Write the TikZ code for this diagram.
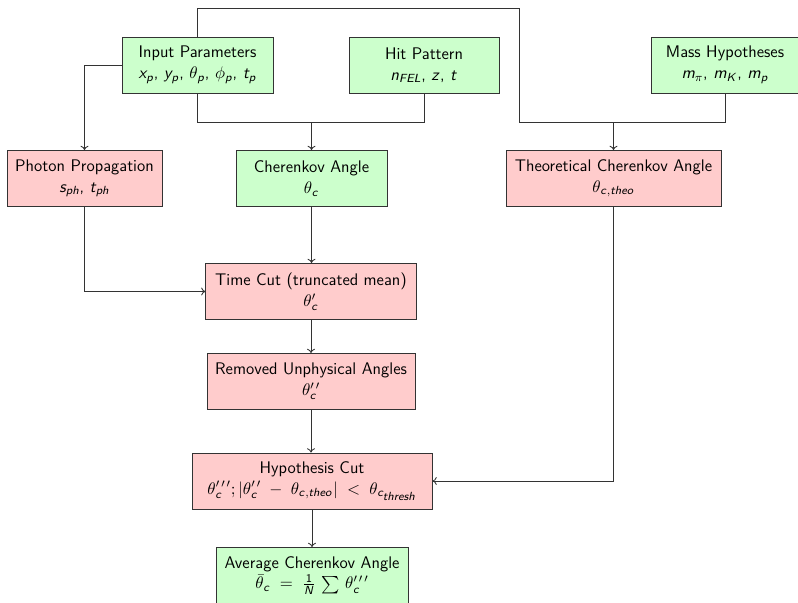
\RequirePackage{fix-cm}
\documentclass[tikz,border=0pt]{standalone}
\usepackage{amsmath}
\DeclareSymbolFont{sfit}{OT1}{cmss}{m}{sl}
\DeclareSymbolFont{sfup}{OT1}{cmss}{m}{n}
\DeclareMathSymbol{a}{\mathalpha}{sfit}{`a}
\DeclareMathSymbol{c}{\mathalpha}{sfit}{`c}
\DeclareMathSymbol{e}{\mathalpha}{sfit}{`e}
\DeclareMathSymbol{h}{\mathalpha}{sfit}{`h}
\DeclareMathSymbol{m}{\mathalpha}{sfit}{`m}
\DeclareMathSymbol{n}{\mathalpha}{sfit}{`n}
\DeclareMathSymbol{o}{\mathalpha}{sfit}{`o}
\DeclareMathSymbol{p}{\mathalpha}{sfit}{`p}
\DeclareMathSymbol{r}{\mathalpha}{sfit}{`r}
\DeclareMathSymbol{s}{\mathalpha}{sfit}{`s}
\DeclareMathSymbol{t}{\mathalpha}{sfit}{`t}
\DeclareMathSymbol{x}{\mathalpha}{sfit}{`x}
\DeclareMathSymbol{y}{\mathalpha}{sfit}{`y}
\DeclareMathSymbol{z}{\mathalpha}{sfit}{`z}
\DeclareMathSymbol{E}{\mathalpha}{sfit}{`E}
\DeclareMathSymbol{F}{\mathalpha}{sfit}{`F}
\DeclareMathSymbol{K}{\mathalpha}{sfit}{`K}
\DeclareMathSymbol{L}{\mathalpha}{sfit}{`L}
\DeclareMathSymbol{N}{\mathalpha}{sfit}{`N}
\DeclareMathSymbol{1}{\mathalpha}{sfup}{`1}
\newcommand{\pI}{^{\prime}}
\newcommand{\pII}{^{\prime\,\prime}}
\newcommand{\pIII}{^{\prime\,\prime\,\prime}}
\usetikzlibrary{calc,arrows.meta}
\begin{document}
\begin{tikzpicture}[x=0.69pt,y=-0.69pt,
  font=\sffamily\fontsize{11.6pt}{14.4pt}\selectfont,
  box/.style={draw=black!80, line width=0.6pt, align=center, minimum height=38.6pt, inner sep=1pt},
  gbox/.style={box, fill=green!20},
  rbox/.style={box, fill=red!20},
  conn/.style={draw=black!80, line width=0.6pt},
  >={To[length=3pt,width=5.5pt]}]
\useasboundingbox (0,0) rectangle (798,602);
\node[gbox, minimum width=104.2pt] (in) at (197.5,65) {Input Parameters\\$x_p$, $y_p$, $\theta_p$, $\phi_p$, $t_p$};
\node[gbox, minimum width=103.5pt] (hit) at (424,65) {Hit Pattern\\$n_{FEL}$, $z$, $t$};
\node[gbox, minimum width=102pt] (mass) at (725,65) {Mass Hypotheses\\$m_\pi$, $m_K$, $m_p$};
\node[rbox, minimum width=107pt] (ph) at (84.5,178.5) {Photon Propagation\\$s_{ph}$, $t_{ph}$};
\node[gbox, minimum width=104.2pt] (cher) at (311.5,178.5) {Cherenkov Angle\\$\theta_c$};
\node[rbox, minimum width=148.3pt] (theo) at (613.5,178.5) {Theoretical Cherenkov Angle\\$\theta_{c,theo}$};
\node[rbox, minimum width=145pt] (tc) at (311,291.5) {Time Cut (truncated mean)\\$\theta_c\pI$};
\node[rbox, minimum width=143.5pt] (rem) at (311,381.5) {Removed Unphysical Angles\\$\theta_c\pII$};
\node[rbox, minimum width=165.6pt] (hyp) at (312,481) {Hypothesis Cut\\$\theta_c\pIII; |\theta_c\pII \;-\; \theta_{c,theo}| \;<\; \theta_{c_{\scriptstyle thresh}}$};
\node[gbox, minimum width=132.5pt] (avg) at (312,575.5) {Average Cherenkov Angle\\$\bar{\theta}_c \;=\; \frac{1}{N}\,\sum\,\theta_c\pIII$};
\coordinate (topR) at (519,8);
\coordinate (joinR) at (519,122);
\coordinate (joinL) at (197.5,122);
\draw[conn] (in.north) |- (topR) -- (joinR);
\draw[conn] (mass.south) |- (joinR);
\draw[conn,->] (theo.north |- joinR) -- (theo.north);
\draw[conn] (in.south) -- (joinL) -| (hit.south);
\draw[conn,->] (cher.north |- joinL) -- (cher.north);
\draw[conn,->] (in.west) -| (ph.north);
\draw[conn,->] (ph.south) |- (tc.west);
\draw[conn,->] (cher.south) -- (cher.south |- tc.north);
\draw[conn,->] (tc.south) -- (tc.south |- rem.north);
\draw[conn,->] (rem.south) -- (rem.south |- hyp.north);
\draw[conn,->] (hyp.south) -- (hyp.south |- avg.north);
\draw[conn,->] (theo.south) |- (hyp.east);
\end{tikzpicture}
\end{document}
